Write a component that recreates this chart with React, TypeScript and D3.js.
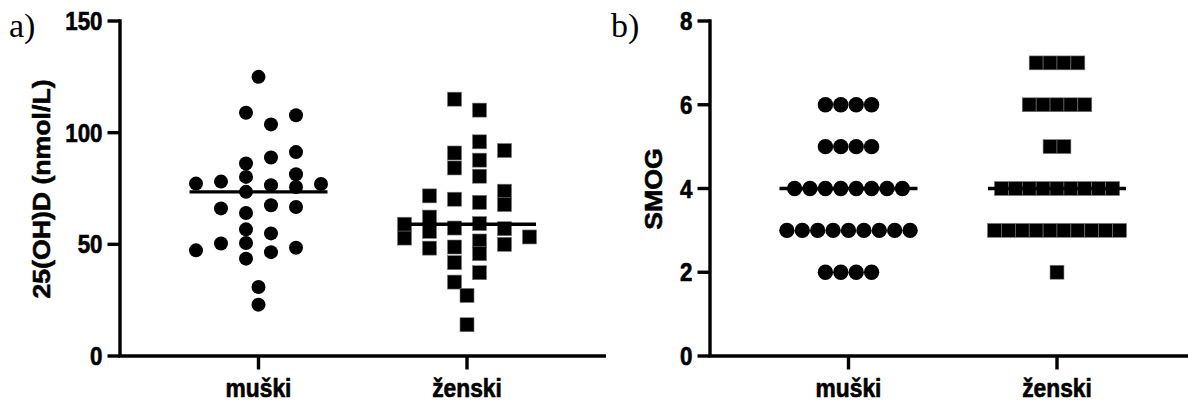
import React from "react";
import * as d3 from "d3";

// ---------- data ----------
const categories = ["muški", "ženski"];

// Panel a: 25(OH)D (nmol/L)
const vitDMale = [
  108.9, 86.2, 80.2, 73.5, 64.0, 56.7, 50.6, 43.6,
  103.7, 76.5, 67.5, 54.9, 46.5,
  107.8, 88.9, 81.4, 75.7, 66.7, 48.5,
  91.3, 78.1, 66.1,
  77.2, 77.0, 50.4, 47.3,
  125.0, 30.9, 23.0,
];
const vitDFemale = [
  115.0, 90.9, 84.2, 70.2, 57.3, 48.8, 41.8, 33.1,
  110.1, 87.7, 80.5, 68.8, 59.3, 51.5, 45.8, 37.3,
  92.0, 73.8, 67.8, 57.0, 50.0,
  95.9, 71.7, 55.8, 48.3,
  59.0, 52.8, 62.2, 53.3,
  27.1, 14.0,
];
const vitDTicks = [0, 50, 100, 150];

// Panel b: SMOG
const smogMale = [
  6, 6, 6, 6,
  5, 5, 5, 5,
  4, 4, 4, 4, 4, 4, 4, 4,
  3, 3, 3, 3, 3, 3, 3, 3, 3,
  2, 2, 2, 2,
];
const smogFemale = [
  7, 7, 7, 7,
  6, 6, 6, 6, 6,
  5, 5,
  4, 4, 4, 4, 4, 4, 4, 4, 4,
  3, 3, 3, 3, 3, 3, 3, 3, 3, 3,
  2,
];
const smogTicks = [0, 2, 4, 6, 8];

// ---------- layout ----------
const W = 1188;
const H = 401;
const FONT = "'Liberation Sans', Arial, sans-serif";
const SERIF = "'Liberation Serif', 'Times New Roman', serif";
const STRETCH = 1.16;
const TEXT_STROKE = 0.55;

// greedy lattice swarm (columns at odd half-steps, isolated points centred)
function swarmOffsets(values: number[], y: (v: number) => number, halfStep: number, minGap: number): number[] {
  const order = [-1, 1, 3, -3, -5, 5, 7, -7, 9, -9];
  const placed: { y: number; k: number }[] = [];
  return values.map((v, i) => {
    const py = y(v);
    const isolated = values.every((w, j) => j === i || Math.abs(y(w) - py) >= minGap);
    if (isolated) return 0;
    for (const k of order) {
      if (placed.every((p) => p.k !== k || Math.abs(p.y - py) >= minGap)) {
        placed.push({ y: py, k });
        return k * halfStep;
      }
    }
    return 0;
  });
}

// rows of identical values, centred
function rowOffsets(values: number[], spacing: number): number[] {
  const groups = d3.group(values.map((v, i) => ({ v, i })), (d) => d.v);
  const out = new Array(values.length).fill(0);
  groups.forEach((arr) => {
    const n = arr.length;
    arr.forEach((d, j) => {
      out[d.i] = (j - (n - 1) / 2) * spacing;
    });
  });
  return out;
}

type PanelProps = {
  axisX: number;
  yMax: number;
  ticks: number[];
  series: number[][];
  title: string;
  titleX: number;
  letter: string;
  letterX: number;
  mode: "swarm" | "rows";
};

function Marker({ shape, cx, cy, size }: { shape: number; cx: number; cy: number; size: number }) {
  if (shape === 0) return <circle cx={cx} cy={cy} r={size / 2} fill="#000" />;
  return (
    <rect
      x={cx - size / 2}
      y={cy - size / 2}
      width={size}
      height={size}
      fill="#000"
      stroke="#777"
      strokeWidth={0.6}
    />
  );
}

function Panel(p: PanelProps) {
  const y0 = 356;
  const yTop = 21;
  const y = d3.scaleLinear().domain([0, p.yMax]).range([y0, yTop]);
  const x = d3
    .scalePoint<string>()
    .domain(categories)
    .range([p.axisX + 138.5, p.axisX + 347]);
  const axisEnd = p.axisX + 486;
  const halfLine = 69;
  const sw = 3.4;

  return (
    <g>
      {/* panel letter */}
      <text x={p.letterX} y={36.5} fontFamily={SERIF} fontSize={34} fill="#000">
        {p.letter}
      </text>

      {/* y title */}
      <text
        transform={`translate(${p.titleX},189) scale(1,${STRETCH}) rotate(-90)`}
        textAnchor="middle"
        dominantBaseline="central"
        fontFamily={FONT}
        fontWeight="bold"
        fontSize={23}
        fill="#000"
        stroke="#000"
        strokeWidth={TEXT_STROKE}
      >
        {p.title}
      </text>

      {/* points */}
      {p.series.map((vals, si) => {
        const cx = x(categories[si]) as number;
        const offs =
          p.mode === "swarm"
            ? swarmOffsets(vals, y, 12.5, 12.5)
            : rowOffsets(vals, si === 0 ? 15.4 : 13.9);
        const size = p.mode === "swarm" ? 14 : si === 0 ? 15.4 : 13.9;
        const med = d3.median(vals) as number;
        return (
          <g key={si}>
            {vals.map((v, i) => (
              <Marker key={i} shape={si} cx={cx + offs[i]} cy={y(v)} size={size} />
            ))}
            <line
              x1={cx - halfLine}
              x2={cx + halfLine}
              y1={y(med)}
              y2={y(med)}
              stroke="#000"
              strokeWidth={sw}
            />
          </g>
        );
      })}

      {/* y axis */}
      <line x1={p.axisX} x2={p.axisX} y1={yTop - sw / 2} y2={y0} stroke="#000" strokeWidth={sw} />
      {p.ticks.map((t) => (
        <g key={t}>
          <line x1={p.axisX - 12.5} x2={p.axisX} y1={y(t)} y2={y(t)} stroke="#000" strokeWidth={sw} />
          <text
            transform={`translate(${p.axisX - 17.5},${y(t)}) scale(1,${STRETCH})`}
            textAnchor="end"
            dominantBaseline="central"
            fontFamily={FONT}
            fontWeight="bold"
            fontSize={22.3}
            fill="#000"
            stroke="#000"
            strokeWidth={TEXT_STROKE}
          >
            {t}
          </text>
        </g>
      ))}

      {/* x axis */}
      <line x1={p.axisX - sw / 2} x2={axisEnd} y1={y0} y2={y0} stroke="#000" strokeWidth={sw} />
      {categories.map((c) => (
        <g key={c}>
          <line x1={x(c)} x2={x(c)} y1={y0} y2={y0 + 13.5} stroke="#000" strokeWidth={sw} />
          <text
            transform={`translate(${x(c)},397) scale(1,${STRETCH})`}
            textAnchor="middle"
            fontFamily={FONT}
            fontWeight="bold"
            fontSize={22.8}
            fill="#000"
            stroke="#000"
            strokeWidth={TEXT_STROKE}
          >
            {c}
          </text>
        </g>
      ))}
    </g>
  );
}

export default function App() {
  return (
    <svg
      width={W}
      height={H}
      viewBox={`0 0 ${W} ${H}`}
      style={{ position: "absolute", left: 0, top: 0, background: "#fff" }}
    >
      <rect x={0} y={0} width={W} height={H} fill="#fff" />
      <Panel
        axisX={120}
        yMax={150}
        ticks={vitDTicks}
        series={[vitDMale, vitDFemale]}
        title="25(OH)D (nmol/L)"
        titleX={42}
        letter="a)"
        letterX={9}
        mode="swarm"
      />
      <Panel
        axisX={710}
        yMax={8}
        ticks={smogTicks}
        series={[smogMale, smogFemale]}
        title="SMOG"
        titleX={653.5}
        letter="b)"
        letterX={611}
        mode="rows"
      />
    </svg>
  );
}
